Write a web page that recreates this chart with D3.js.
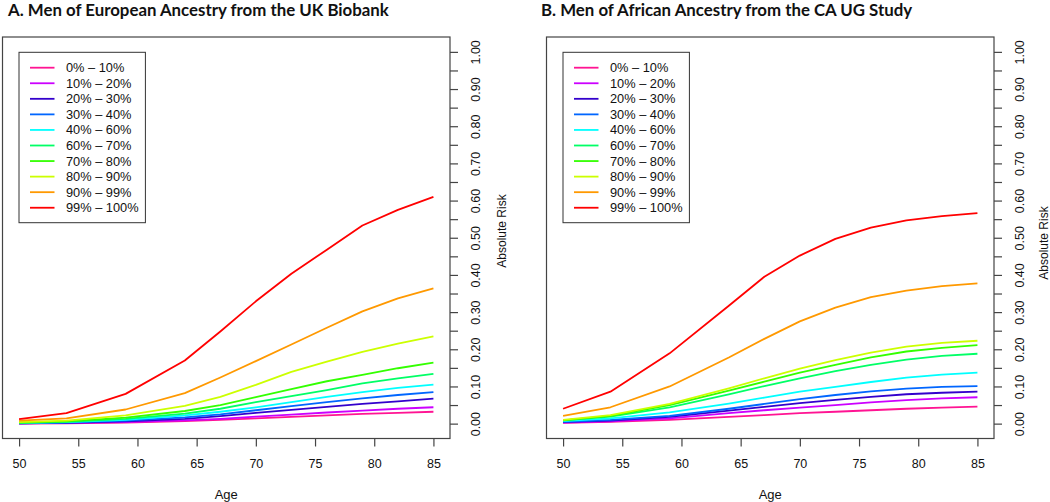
<!DOCTYPE html>
<html><head><meta charset="utf-8">
<script src="https://cdn.jsdelivr.net/npm/d3@7"></script>
<style>body{margin:0;background:#fff} svg{display:block}</style>
</head><body><svg id="c" width="1050" height="502"></svg>
<script>
const ages = [50, 54, 59, 64, 67, 70, 73, 76, 79, 82, 85];
const groups = ["0% \u2013 10%", "10% \u2013 20%", "20% \u2013 30%", "30% \u2013 40%", "40% \u2013 60%",
                "60% \u2013 70%", "70% \u2013 80%", "80% \u2013 90%", "90% \u2013 99%", "99% \u2013 100%"];
const colors = ["#FF1493", "#CC00FF", "#3300CC", "#0066FF", "#00FFFF",
                "#00FF66", "#33FF00", "#CCFF00", "#FF9900", "#FF0000"];
const titles = ["A. Men of European Ancestry from the UK Biobank",
                "B. Men of African Ancestry from the CA UG Study"];
const ageTicks = [50, 55, 60, 65, 70, 75, 80, 85];
const riskTicks = [0, 0.05, 0.1, 0.15, 0.2, 0.25, 0.3, 0.35, 0.4, 0.45, 0.5,
                   0.55, 0.6, 0.65, 0.7, 0.75, 0.8, 0.85, 0.9, 0.95, 1.0];
const riskLabels = [0, 0.1, 0.2, 0.3, 0.4, 0.5, 0.6, 0.7, 0.8, 0.9, 1.0];

// Panel A: European ancestry, UK Biobank (one array per PRS group)
const euroRisk = [
  [0.000, 0.001, 0.003, 0.007, 0.010, 0.014, 0.018, 0.022, 0.026, 0.029, 0.032],
  [0.001, 0.002, 0.004, 0.009, 0.013, 0.019, 0.024, 0.030, 0.035, 0.040, 0.044],
  [0.001, 0.002, 0.006, 0.013, 0.020, 0.029, 0.037, 0.045, 0.053, 0.060, 0.067],
  [0.001, 0.003, 0.008, 0.017, 0.025, 0.036, 0.047, 0.058, 0.068, 0.077, 0.085],
  [0.002, 0.004, 0.010, 0.022, 0.032, 0.044, 0.058, 0.072, 0.085, 0.096, 0.105],
  [0.002, 0.005, 0.013, 0.027, 0.040, 0.058, 0.074, 0.090, 0.108, 0.122, 0.134],
  [0.003, 0.006, 0.016, 0.034, 0.050, 0.071, 0.093, 0.114, 0.131, 0.149, 0.164],
  [0.004, 0.008, 0.022, 0.048, 0.072, 0.104, 0.139, 0.167, 0.193, 0.215, 0.235],
  [0.008, 0.014, 0.038, 0.082, 0.124, 0.168, 0.213, 0.258, 0.302, 0.337, 0.364],
  [0.012, 0.028, 0.080, 0.170, 0.248, 0.329, 0.403, 0.468, 0.533, 0.575, 0.610]
];
// Panel B: African ancestry, CA UG study
const africanRisk = [
  [0.002, 0.005, 0.010, 0.018, 0.023, 0.028, 0.032, 0.036, 0.040, 0.043, 0.046],
  [0.003, 0.006, 0.014, 0.028, 0.036, 0.043, 0.050, 0.057, 0.063, 0.068, 0.071],
  [0.004, 0.008, 0.018, 0.035, 0.045, 0.055, 0.064, 0.072, 0.079, 0.083, 0.086],
  [0.005, 0.010, 0.021, 0.040, 0.053, 0.066, 0.077, 0.087, 0.094, 0.099, 0.101],
  [0.007, 0.014, 0.030, 0.054, 0.070, 0.086, 0.099, 0.112, 0.124, 0.132, 0.137],
  [0.009, 0.019, 0.044, 0.079, 0.101, 0.122, 0.141, 0.158, 0.172, 0.182, 0.188],
  [0.009, 0.021, 0.050, 0.089, 0.113, 0.137, 0.158, 0.178, 0.194, 0.204, 0.211],
  [0.010, 0.023, 0.053, 0.095, 0.122, 0.148, 0.171, 0.191, 0.207, 0.217, 0.223],
  [0.021, 0.044, 0.100, 0.178, 0.228, 0.275, 0.312, 0.340, 0.358, 0.370, 0.377],
  [0.040, 0.086, 0.189, 0.317, 0.395, 0.452, 0.497, 0.527, 0.547, 0.558, 0.566]
];

const svg = d3.select("#c");
const FONT = "'Liberation Sans', Arial, Helvetica, sans-serif";
const panels = [
  {left: 2.5, data: euroRisk, title: titles[0], titleX: 8, yLabOff: 55.5, yLabY: 231},
  {left: 546.5, data: africanRisk, title: titles[1], titleX: 541, yLabOff: 53.5, yLabY: 243}
];
const W = 447.5, TOP = 37, BOT = 438.5;

// title font size fitted to reference width
const probe = svg.append("text").attr("font-family", "Lato, 'Open Sans', sans-serif")
  .attr("font-weight", 700).attr("font-size", 18).text(titles[0]);
const titleSize = 18 * 381 / probe.node().getComputedTextLength();
probe.remove();

panels.forEach(p => {
  const g = svg.append("g");
  const x = d3.scaleLinear().domain([48.6, 86.4]).range([p.left, p.left + W]);
  const y = d3.scaleLinear().domain([-0.04, 1.04]).range([BOT, TOP]);

  g.append("text").attr("x", p.titleX).attr("y", 15.5)
    .attr("font-family", "Lato, 'Open Sans', sans-serif").attr("font-weight", 700)
    .attr("font-size", titleSize).attr("fill", "#111").text(p.title);

  // lines
  const line = d3.line().x((d, i) => x(ages[i])).y(d => y(d));
  p.data.forEach((s, k) => {
    g.append("path").datum(s).attr("d", line).attr("fill", "none")
      .attr("stroke", colors[k]).attr("stroke-width", 1.8).attr("stroke-linejoin", "round");
  });

  // box
  g.append("rect").attr("x", p.left).attr("y", TOP).attr("width", W).attr("height", BOT - TOP)
    .attr("fill", "none").attr("stroke", "#444").attr("stroke-width", 1.2);

  // x axis
  const xa = g.append("g").attr("transform", `translate(0,${BOT})`)
    .call(d3.axisBottom(x).tickValues(ageTicks).tickSize(8).tickFormat(d3.format("d")));
  xa.select(".domain").remove();
  xa.selectAll("line").attr("stroke", "#444").attr("stroke-width", 1.2);
  xa.selectAll("text").attr("y", 29).attr("dy", null).attr("font-family", FONT)
    .attr("font-size", 12.5).attr("fill", "#111");

  // y axis (right)
  const ya = g.append("g").attr("transform", `translate(${p.left + W},0)`)
    .call(d3.axisRight(y).tickValues(riskTicks).tickSize(8)
      .tickFormat(d => riskLabels.some(v => Math.abs(v - d) < 1e-9) ? d3.format(".2f")(d) : ""));
  ya.select(".domain").remove();
  ya.selectAll("line").attr("stroke", "#444").attr("stroke-width", 1.2);
  ya.selectAll("text").attr("x", null).attr("dy", null)
    .attr("transform", "translate(29.5,0) rotate(-90)").attr("text-anchor", "middle")
    .attr("font-family", FONT).attr("font-size", 12.5).attr("fill", "#111");

  // axis titles
  g.append("text").attr("x", x(67.5)).attr("y", 498.5).attr("text-anchor", "middle")
    .attr("font-family", FONT).attr("font-size", 13).attr("fill", "#111").text("Age");
  g.append("text").attr("transform", `translate(${p.left + W + p.yLabOff},${p.yLabY}) rotate(-90)`)
    .attr("text-anchor", "middle").attr("font-family", FONT).attr("font-size", 12)
    .attr("fill", "#111").text("Absolute Risk");

  // legend
  const lx = p.left + 16.5, ly = 52.3;
  g.append("rect").attr("x", lx).attr("y", ly).attr("width", 126.4).attr("height", 170.4)
    .attr("fill", "#fff").attr("stroke", "#333").attr("stroke-width", 1);
  groups.forEach((name, k) => {
    const yy = ly + 15.4 + k * 15.56;
    g.append("line").attr("x1", lx + 11).attr("x2", lx + 35.5).attr("y1", yy).attr("y2", yy)
      .attr("stroke", colors[k]).attr("stroke-width", 1.8);
    g.append("text").attr("x", lx + 47).attr("y", yy).attr("dy", "0.35em")
      .attr("font-family", FONT).attr("font-size", 12.8).attr("fill", "#111").text(name);
  });
});
</script></body></html>
